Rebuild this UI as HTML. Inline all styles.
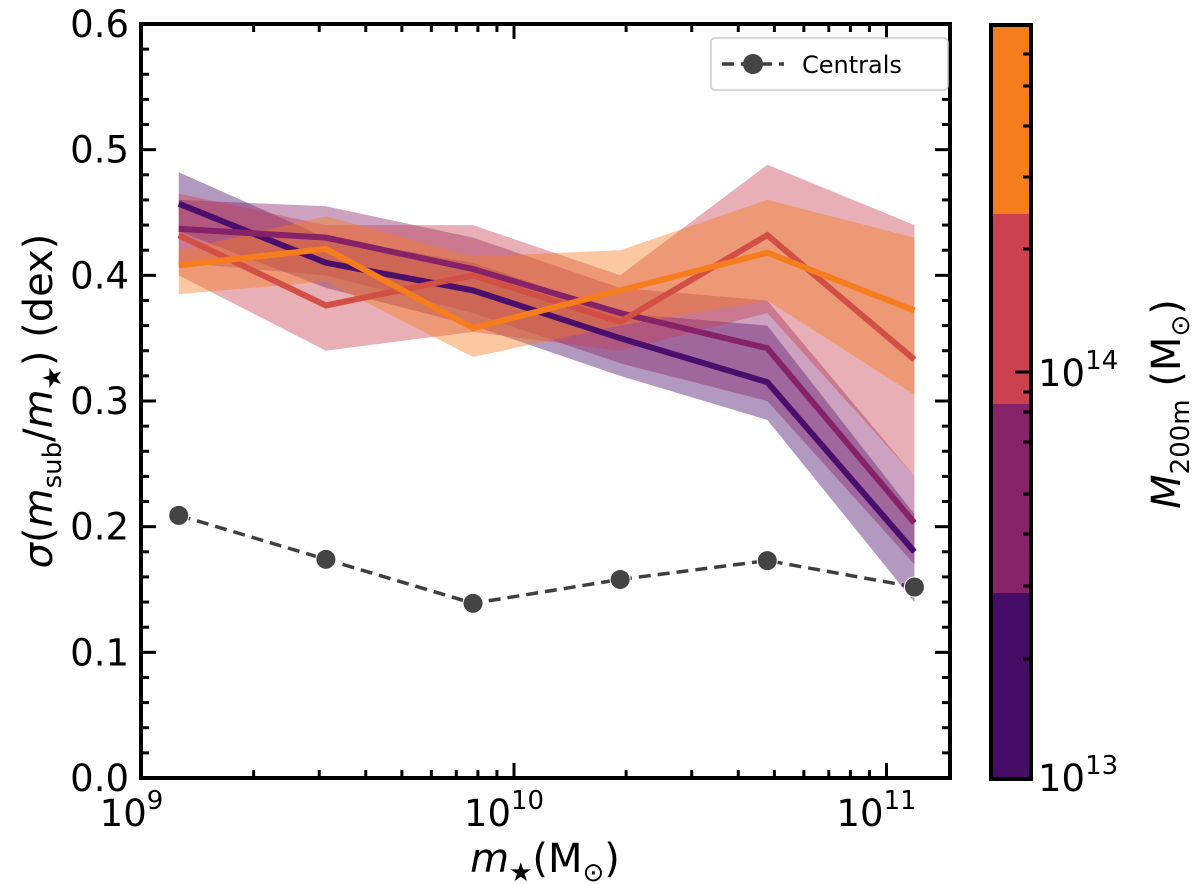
<!DOCTYPE html>
<html><head><meta charset="utf-8"><style>
body{margin:0;background:#fff;position:relative;width:1200px;height:884px;overflow:hidden;}
svg{display:block;font-family:"DejaVu Sans","Liberation Sans",sans-serif;position:absolute;left:0;top:0;}
</style></head><body>
<svg id="chart" width="1200" height="884" viewBox="0 0 1200 884" xmlns="http://www.w3.org/2000/svg">
<g id="bands"></g>
<g id="lines"></g>
<g id="axes"></g>
<text x="545" y="872" text-anchor="middle" font-size="40"><tspan font-style="italic">m</tspan><tspan font-size="26" dy="9">★</tspan><tspan dy="-9">(M</tspan><tspan font-size="26" dy="9">⊙</tspan><tspan dy="-9">)</tspan></text>
<text transform="translate(52,401) rotate(-90)" text-anchor="middle" font-size="40"><tspan font-style="italic">σ</tspan>(<tspan font-style="italic">m</tspan><tspan font-size="26" dy="9">sub</tspan><tspan dy="-9">/</tspan><tspan font-style="italic">m</tspan><tspan font-size="26" dy="9">★</tspan><tspan dy="-9">) (dex)</tspan></text>
<g>
<rect x="711" y="38" width="237" height="52" rx="4" fill="#fff" stroke="#ccc" stroke-width="1.5"/>
<line x1="722" y1="64" x2="784" y2="64" stroke="#3f3f3f" stroke-width="3.5" stroke-dasharray="12,7"/>
<circle cx="753" cy="64" r="10" fill="#444"/>
<text x="802" y="73" font-size="24">Centrals</text>
</g>
<g>
<rect x="991" y="214" width="40" height="190" fill="#cb4150"/>
<rect x="991" y="25" width="40" height="189" fill="#f57d1e"/>
<rect x="991" y="404" width="40" height="189" fill="#862268"/>
<rect x="991" y="593" width="40" height="186" fill="#450d66"/>
<rect x="991" y="25" width="40" height="754" fill="none" stroke="#000" stroke-width="4"/>
<g stroke="#000" stroke-width="3">
<line x1="1031" x2="1023" y1="54" y2="54"/><line x1="1031" x2="1023" y1="86" y2="86"/><line x1="1031" x2="1023" y1="126" y2="126"/><line x1="1031" x2="1023" y1="177" y2="177"/><line x1="1031" x2="1023" y1="249" y2="249"/><line x1="1031" x2="1015" y1="372" y2="372"/><line x1="1031" x2="1023" y1="392" y2="392"/><line x1="1031" x2="1023" y1="412" y2="412"/><line x1="1031" x2="1023" y1="442" y2="442"/><line x1="1031" x2="1023" y1="494" y2="494"/><line x1="1031" x2="1023" y1="534" y2="534"/><line x1="1031" x2="1023" y1="586" y2="586"/><line x1="1031" x2="1023" y1="659" y2="659"/>
</g>
<text x="1038" y="386" font-size="37">10<tspan font-size="26" dy="-17">14</tspan></text>
<text x="1038" y="791" font-size="37">10<tspan font-size="26" dy="-17">13</tspan></text>
<text transform="translate(1180,404) rotate(-90)" text-anchor="middle" font-size="40"><tspan font-style="italic">M</tspan><tspan font-size="26" dy="9">200m</tspan><tspan dy="-9"> (M</tspan><tspan font-size="26" dy="9">⊙</tspan><tspan dy="-9">)</tspan></text>
</g>
</svg>
<script>
const xLogs = [9.1, 9.495, 9.89, 10.285, 10.68, 11.075];
const seriesNames = ["purple", "magenta", "red", "orange"];
const seriesColors = ["#4a0f6c", "#862268", "#d24f45", "#f57d1e"];
const bandColors = ["#450d66", "#862268", "#cb4150", "#f57d1e"];
const purpleVals = [0.457, 0.41, 0.388, 0.35, 0.315, 0.18];
const magentaVals = [0.437, 0.43, 0.405, 0.37, 0.342, 0.203];
const redVals = [0.432, 0.376, 0.40, 0.363, 0.432, 0.333];
const orangeVals = [0.408, 0.421, 0.358, 0.388, 0.418, 0.372];
const purpleHi = [0.482, 0.43, 0.41, 0.37, 0.36, 0.21];
const purpleLo = [0.435, 0.39, 0.36, 0.32, 0.285, 0.14];
const magentaHi = [0.46, 0.455, 0.43, 0.39, 0.38, 0.24];
const magentaLo = [0.41, 0.40, 0.37, 0.33, 0.30, 0.17];
const redHi = [0.465, 0.44, 0.44, 0.40, 0.488, 0.44];
const redLo = [0.40, 0.34, 0.355, 0.34, 0.37, 0.24];
const orangeHi = [0.42, 0.447, 0.415, 0.42, 0.46, 0.43];
const orangeLo = [0.385, 0.395, 0.335, 0.36, 0.38, 0.305];
const centralVals = [0.209, 0.174, 0.139, 0.158, 0.173, 0.152];
const yTicks = [0.0, 0.1, 0.2, 0.3, 0.4, 0.5, 0.6];
const yTickLabels = ["0.0", "0.1", "0.2", "0.3", "0.4", "0.5", "0.6"];
const xMajor = [9, 10, 11];

const X0 = 141, X1 = 950, Y0 = 24, Y1 = 778;
const xs = l => 141.5 + (l - 9) * 372.5;
const ys = v => Y1 - v / 0.6 * (Y1 - Y0);
const NS = "http://www.w3.org/2000/svg";
function mk(tag, attrs, parent) {
  const e = document.createElementNS(NS, tag);
  for (const k in attrs) e.setAttribute(k, attrs[k]);
  parent.appendChild(e); return e;
}
const bands = document.getElementById("bands");
const lines = document.getElementById("lines");
const axes = document.getElementById("axes");

const vals = [purpleVals, magentaVals, redVals, orangeVals];
const his = [purpleHi, magentaHi, redHi, orangeHi];
const los = [purpleLo, magentaLo, redLo, orangeLo];
for (let s = 0; s < 4; s++) {
  let pts = xLogs.map((l, i) => xs(l) + "," + ys(his[s][i]));
  pts = pts.concat(xLogs.map((l, i) => xs(l) + "," + ys(los[s][i])).reverse());
  const p = mk("polygon", {points: pts.join(" "), fill: bandColors[s], "fill-opacity": 0.42}, bands);
  
  
}
for (let s = 0; s < 4; s++) {
  const p = mk("polyline", {points: xLogs.map((l, i) => xs(l) + "," + ys(vals[s][i])).join(" "), fill: "none", stroke: seriesColors[s], "stroke-width": 6}, lines);
  
  
}
const cl = mk("polyline", {points: xLogs.map((l, i) => xs(l) + "," + ys(centralVals[i])).join(" "), fill: "none", stroke: "#3f3f3f", "stroke-width": 3.5, "stroke-dasharray": "12,7"}, lines);


xLogs.forEach((l, i) => {
  const c = mk("circle", {cx: xs(l), cy: ys(centralVals[i]), r: 10, fill: "#444", stroke: "#fff", "stroke-width": 1}, lines);
  
  
});

const fr = mk("rect", {x: X0, y: Y0, width: X1 - X0, height: Y1 - Y0, fill: "none", stroke: "#000", "stroke-width": 4}, axes);


for (let k = 0; k <= 30; k++) {
  const v = k * 0.02, y = ys(v), major = k % 5 === 0, len = major ? 15 : 8;
  mk("line", {x1: X0, x2: X0 + len, y1: y, y2: y, stroke: "#000", "stroke-width": 3}, axes);
  mk("line", {x1: X1, x2: X1 - len, y1: y, y2: y, stroke: "#000", "stroke-width": 3}, axes);
}
yTicks.forEach((v, i) => {
  const t = mk("text", {x: X0 - 12, y: ys(v) + 13, "text-anchor": "end", "font-size": 37}, axes);
  t.textContent = yTickLabels[i];
  
  
});
for (let d = 9; d <= 11; d++) {
  for (let m = 1; m <= 9; m++) {
    const l = d + Math.log10(m), x = xs(l);
    if (x < X0 - 1 || x > X1) continue;
    const len = m === 1 ? 15 : 8;
    mk("line", {x1: x, x2: x, y1: Y1, y2: Y1 - len, stroke: "#000", "stroke-width": 3}, axes);
    mk("line", {x1: x, x2: x, y1: Y0, y2: Y0 + len, stroke: "#000", "stroke-width": 3}, axes);
  }
}
xMajor.forEach(d => {
  const t = mk("text", {x: xs(d) - 10, y: Y1 + 48, "text-anchor": "middle", "font-size": 37}, axes);
  t.textContent = "10";
  const s = mk("tspan", {dy: -17, "font-size": 26}, t);
  s.textContent = String(d);
  
  
});
</script>
</body></html>
